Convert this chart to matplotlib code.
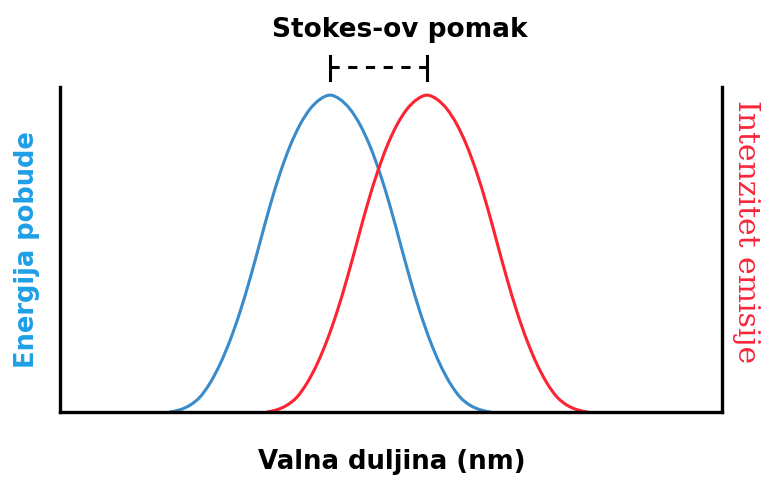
import matplotlib
matplotlib.use("Agg")
import matplotlib.pyplot as plt
from matplotlib.path import Path
from matplotlib.patches import PathPatch

# wavelength (arbitrary units) and normalised intensity
excitation_x = [16.62, 18.13, 19.64, 21.15, 22.66, 24.17, 25.68, 27.19, 28.70, 30.21, 31.72,
                33.23, 34.74, 36.25, 37.76, 39.27, 40.79, 42.30, 43.81, 45.32, 46.83, 48.34,
                49.85, 51.36, 52.87, 54.38, 55.89, 57.40, 58.91, 60.42, 61.93, 63.44, 64.95]
excitation_y = [0.0, 0.007, 0.021, 0.046, 0.089, 0.147, 0.220, 0.308, 0.410, 0.522, 0.634,
                0.734, 0.818, 0.884, 0.932, 0.962, 0.975, 0.962, 0.932, 0.884, 0.818, 0.734,
                0.634, 0.522, 0.410, 0.308, 0.220, 0.147, 0.089, 0.046, 0.021, 0.007, 0.0]

emission_x = [31.27, 32.78, 34.29, 35.80, 37.31, 38.82, 40.33, 41.84, 43.35, 44.86, 46.37,
              47.89, 49.40, 50.91, 52.42, 53.93, 55.44, 56.95, 58.46, 59.97, 61.48, 62.99,
              64.50, 66.01, 67.52, 69.03, 70.54, 72.05, 73.56, 75.08, 76.59, 78.10, 79.61]
emission_y = [0.0, 0.007, 0.021, 0.046, 0.089, 0.147, 0.220, 0.308, 0.410, 0.522, 0.634,
              0.734, 0.818, 0.884, 0.932, 0.962, 0.975, 0.962, 0.932, 0.884, 0.818, 0.734,
              0.634, 0.522, 0.410, 0.308, 0.220, 0.147, 0.089, 0.046, 0.021, 0.007, 0.0]

title_text = "Stokes-ov pomak"
xlabel_text = "Valna duljina (nm)"
left_label = "Energija pobude"
right_label = "Intenzitet emisije"


def smooth_path(xs, ys):
    """Cubic Bezier path passing through every data point (Catmull-Rom tangents)."""
    pts = list(zip(xs, ys))
    n = len(pts)
    verts = [pts[0]]
    codes = [Path.MOVETO]
    for i in range(n - 1):
        p0 = pts[i - 1] if i > 0 else pts[i]
        p1 = pts[i]
        p2 = pts[i + 1]
        p3 = pts[i + 2] if i + 2 < n else pts[i + 1]
        c1 = (p1[0] + (p2[0] - p0[0]) / 6, p1[1] + (p2[1] - p0[1]) / 6)
        c2 = (p2[0] - (p3[0] - p1[0]) / 6, p2[1] - (p3[1] - p1[1]) / 6)
        verts += [c1, c2, p2]
        codes += [Path.CURVE4] * 3
    return Path(verts, codes)


fig = plt.figure(figsize=(7.65, 4.78), dpi=100)
ax = fig.add_axes([60/765, 66/478, 662/765, 325/478])
ax.add_patch(PathPatch(smooth_path(excitation_x, excitation_y), fill=False,
                       edgecolor="#3a8bc9", lw=2.2, capstyle="round"))
ax.add_patch(PathPatch(smooth_path(emission_x, emission_y), fill=False,
                       edgecolor="#fb2430", lw=2.2, capstyle="round"))
ax.set_xlim(0, 100)
ax.set_ylim(0, 1)
ax.set_xticks([])
ax.set_yticks([])
ax.spines["top"].set_visible(False)
for s in ["left", "right", "bottom"]:
    ax.spines[s].set_linewidth(2.4)
    ax.spines[s].set_color("black")

# Stokes shift bracket between the two peaks
pk_ex = excitation_x[excitation_y.index(max(excitation_y))]
pk_em = emission_x[emission_y.index(max(emission_y))]
ax.plot([pk_ex, pk_ex], [1.022, 1.095], color="black", lw=2.2, clip_on=False)
ax.plot([pk_em, pk_em], [1.022, 1.095], color="black", lw=2.2, clip_on=False)
ax.plot([pk_ex, pk_em], [1.062, 1.062], color="black", lw=2.2, clip_on=False,
        dashes=(3.0, 2.8))

fig.text(400/765, 1 - 30/478, title_text, ha="center", va="center",
         fontsize=19, fontweight="bold", family="DejaVu Sans")
fig.text(392/765, 1 - 462/478, xlabel_text, ha="center", va="center",
         fontsize=18.7, fontweight="bold", family="DejaVu Sans")
fig.text(27/765, 1 - 250/478, left_label, ha="center", va="center", rotation=90,
         fontsize=18.5, fontweight="bold", color="#1e9fe6", family="DejaVu Sans")
fig.text(746/765, 1 - 232/478, right_label, ha="center", va="center", rotation=270,
         fontsize=21.5, color="#f8263a", family="DejaVu Serif")

fig.savefig("out.png", dpi=100, facecolor="white")
